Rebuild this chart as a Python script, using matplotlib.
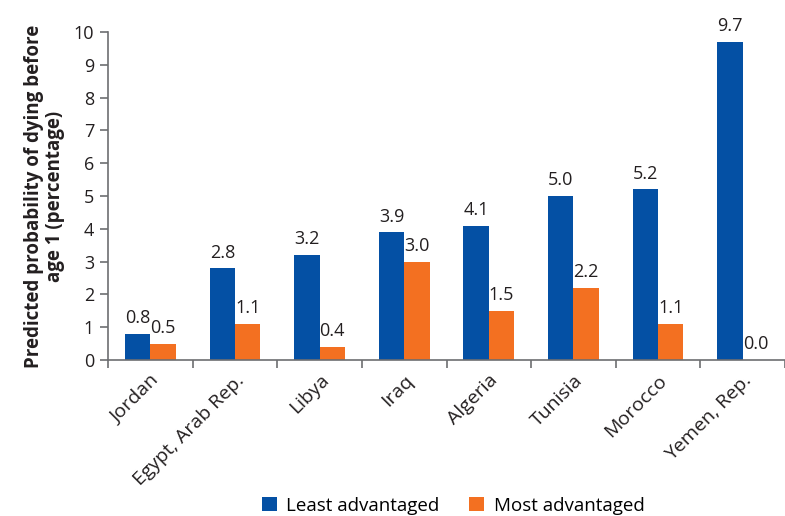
import matplotlib.pyplot as plt
import numpy as np

plt.rcParams['font.family'] = ['Open Sans', 'DejaVu Sans']

countries = ['Jordan', 'Egypt, Arab Rep.', 'Libya', 'Iraq', 'Algeria',
             'Tunisia', 'Morocco', 'Yemen, Rep.']
least_adv = [0.8, 2.8, 3.2, 3.9, 4.1, 5.0, 5.2, 9.7]
most_adv = [0.5, 1.1, 0.4, 3.0, 1.5, 2.2, 1.1, 0.0]

blue = '#0450a4'
orange = '#f37021'
axis_gray = '#6d6e71'
text_col = '#231f20'

fig = plt.figure(figsize=(7.85, 5.16), dpi=100)
ax = fig.add_axes([0.1376, 0.3023, 0.8624, 0.6357])

x = np.arange(len(countries))
w = 0.30
b1 = ax.bar(x - w / 2, least_adv, w, color=blue, label='Least advantaged')
b2 = ax.bar(x + w / 2, most_adv, w, color=orange, label='Most advantaged')

for bars, vals in ((b1, least_adv), (b2, most_adv)):
    for r, v in zip(bars, vals):
        ax.text(r.get_x() + r.get_width() / 2, v + 0.2, f'{v:.1f}',
                ha='center', va='bottom', fontsize=13, color=text_col)

ax.set_ylim(0, 10)
ax.set_yticks(range(0, 11))
ax.set_xlim(-0.5, 7.41)

# group separators as ticks, names placed at the group centres
ax.set_xticks(np.arange(-0.5, 8, 1.0))
ax.set_xticklabels([])
ax.set_xticks(x, minor=True)
ax.set_xticklabels(countries, minor=True, rotation=45, ha='right',
                   rotation_mode='anchor', fontsize=14, color=text_col)
ax.tick_params(axis='x', which='minor', length=0, pad=8)
ax.tick_params(axis='x', which='major', length=6, color=axis_gray, width=1.2)
ax.tick_params(axis='y', length=6, color=axis_gray, width=1.2,
               labelsize=13, labelcolor=text_col, pad=4)

for s in ('top', 'right'):
    ax.spines[s].set_visible(False)
for s in ('left', 'bottom'):
    ax.spines[s].set_color(axis_gray)
    ax.spines[s].set_linewidth(1.2)

ax.set_ylabel('Predicted probability of dying before\nage 1 (percentage)',
              fontsize=13.5, fontweight='bold', color=text_col,
              linespacing=1.1, labelpad=6)

fig.legend(handles=[b1, b2], loc='lower center', ncol=2, frameon=False,
           bbox_to_anchor=(0.577, -0.03), fontsize=13.5, handlelength=0.8,
           handleheight=0.8, handletextpad=0.5, columnspacing=1.6)

fig.savefig('out.png', dpi=100)
